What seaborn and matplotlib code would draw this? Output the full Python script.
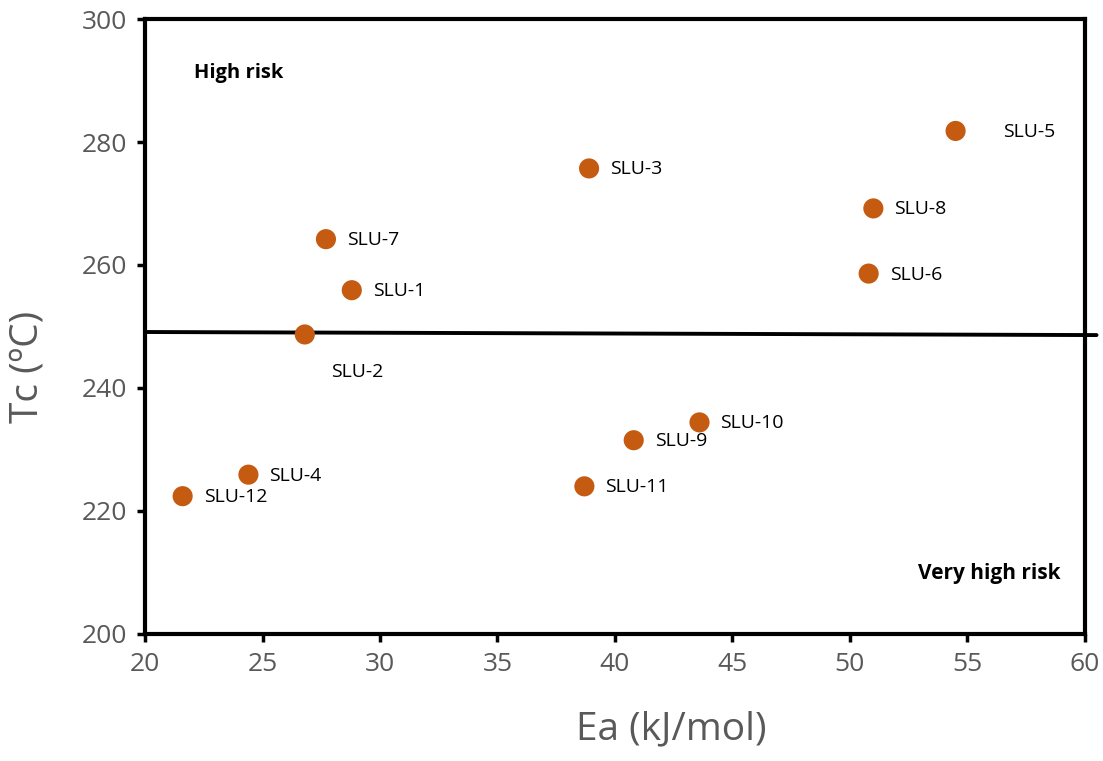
import matplotlib
matplotlib.use("Agg")
import matplotlib.pyplot as plt
import seaborn as sns
import pandas as pd

# values
samples = ["SLU-12", "SLU-4", "SLU-2", "SLU-7", "SLU-1", "SLU-3",
           "SLU-11", "SLU-9", "SLU-10", "SLU-6", "SLU-8", "SLU-5"]
ea = [21.6, 24.4, 26.8, 27.7, 28.8, 38.9, 38.7, 40.8, 43.6, 50.8, 51.0, 54.5]
tc = [222.4, 225.9, 248.7, 264.2, 255.9, 275.7, 224.0, 231.5, 234.4, 258.6, 269.2, 281.8]
line_x = [20, 60.5]
line_y = [249.1, 248.6]

df = pd.DataFrame({"sample": samples, "Ea": ea, "Tc": tc})

# label offsets in pixels (dx, dy)
offsets = {"SLU-2": (26, -38), "SLU-5": (47, -1)}

sns.set_theme(style="white")
plt.rcParams["font.family"] = ["Open Sans", "DejaVu Sans"]

fig = plt.figure(figsize=(11.03, 7.61), dpi=100)
ax = fig.add_axes([0.1315, 0.167, 0.852, 0.808])

ax.plot(line_x, line_y, color="black", lw=2.8, clip_on=False, zorder=2)
sns.scatterplot(data=df, x="Ea", y="Tc", ax=ax, color="#C55A11", s=210,
                edgecolor="none", zorder=3, legend=False)

for s, x, y in zip(samples, ea, tc):
    dx, dy = offsets.get(s, (21, -1))
    ax.annotate(s, (x, y), xytext=(dx * 0.72, dy * 0.72), textcoords="offset points",
                ha="left", va="center", fontsize=14, color="black")

ax.text(22.1, 291.2, "High risk", fontsize=14.5, fontweight="bold", va="center", color="black")
ax.text(58.95, 209.9, "Very high risk", fontsize=15, fontweight="bold", va="center",
        ha="right", color="black")

ax.set_xlim(20, 60)
ax.set_ylim(200, 300)
ax.set_xticks(range(20, 61, 5))
ax.set_yticks(range(200, 301, 20))
for sp in ax.spines.values():
    sp.set_visible(True)
    sp.set_color("black")
    sp.set_linewidth(3)
ax.tick_params(axis="both", direction="out", length=6, width=2.5, color="black",
               labelsize=19, labelcolor="#595959", bottom=True, left=True, pad=7)
ax.set_xlabel("Ea (kJ/mol)", fontsize=28, color="#595959")
ax.set_ylabel("Tc (ºC)", fontsize=28, color="#595959")
ax.xaxis.label.set_va("center")
ax.yaxis.label.set_va("center")
ax.xaxis.set_label_coords(0.56, -0.156)
ax.yaxis.set_label_coords(-0.1255, 0.434)

fig.savefig("out.png", dpi=100)
